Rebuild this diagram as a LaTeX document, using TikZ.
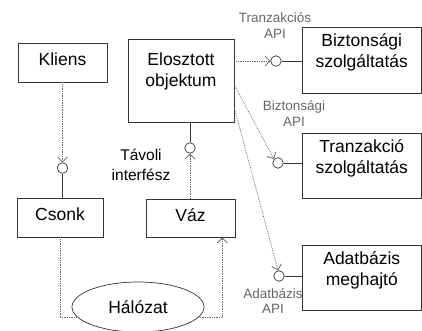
\documentclass[tikz,border=0pt]{standalone}
\usepackage{fontspec}
\setmainfont{Liberation Sans}
\usetikzlibrary{arrows,arrows.meta,shapes,positioning}

\tikzset{
box/.style={draw=black!80, line width=0.7pt, rectangle, inner sep=0pt, align=center, font=\fontsize{17.5}{21}\selectfont},
onebox/.style={box, text height=12pt, text depth=6pt},
iface/.style={draw=black!80, line width=0.7pt, circle, minimum size=10.5pt, inner sep=0pt},
api/.style={align=center, inner sep=0pt, text=black!60, font=\fontsize{13.5}{15.5}\selectfont},
wire/.style={draw=black!80, line width=0.7pt},
link/.style={densely dotted, black!60, line width=0.75pt},
call/.style={link, -{Straight Barb[length=5pt,width=10pt,line width=0.8pt]}},
}

\begin{document}
\begin{tikzpicture}[x=1pt,y=-1pt]
\useasboundingbox (0,0) rectangle (422,330);
\node [onebox, minimum width=89pt, minimum height=39pt] (kliens) at (62.5,62.5) {Kliens};
\node [box, minimum width=106pt, minimum height=83pt] (elosztott) at (181,80.5) {};
\node [align=center, inner sep=0pt, font=\fontsize{17.5}{21}\selectfont] (elosztottnev) at (181,71.6) {Elosztott\\objektum};
\node [onebox, minimum width=86pt, minimum height=39pt] (csonk) at (60,217.5) {Csonk};
\node [onebox, minimum width=89pt, minimum height=38pt] (vaz) at (190.5,218) {Váz};
\node [box, ellipse, minimum width=132pt, minimum height=50pt] (halozat) at (138,307) {Hálózat};
\node [box, minimum width=119pt, minimum height=66pt, text depth=18pt] (bizt) at (361.75,60) {Biztonsági\\szolgáltatás};
\node [box, minimum width=119pt, minimum height=65pt, text depth=18pt] (tranz) at (361.75,165.5) {Tranzakció\\szolgáltatás};
\node [box, minimum width=119pt, minimum height=65pt, text depth=18pt] (adat) at (361.75,277.5) {Adatbázis\\meghajtó};

\node [iface] (kliensif) at (62.5,168) {};
\node [iface] (elosztottif) at (190,148) {};
\node [iface] (biztif) at (276,61) {};
\node [iface] (tranzif) at (278,163) {};
\node [iface] (adatif) at (279,276) {};

\node [api] (biztapi) at (275,25.5) {Tranzakciós\\API};
\node [api] (tranzapi) at (294,113.5) {Biztonsági\\API};
\node [api] (adatapi) at (273,301) {Adatbázis\\API};
\node [align=center, inner sep=0pt, font=\fontsize{15.5}{20}\selectfont] (tavoli) at (141,164.7) {Távoli\\interfész};

\draw [call] (kliens.south) -- (kliensif.north);
\draw [wire] (kliensif.south) -- (kliensif |- csonk.north);
\draw [wire] (elosztottif.north) -- (elosztottif |- elosztott.south);
\draw [call] (vaz.north -| elosztottif) -- (elosztottif.south);
\draw [link] (csonk.south) |- (halozat.190);
\draw [call] (halozat.-10) -| ([xshift=-13pt]vaz.south east);
\draw [call] (elosztott.east |- biztif) -- (biztif.west);
\draw [wire] (biztif.east) -- (biztif.east -| bizt.west);
\draw [call] ([yshift=-4.5pt]elosztott.east) -- (tranzif.135);
\draw [wire] (tranzif.east) -- (tranzif.east -| tranz.west);
\draw [call] ([yshift=-27.5pt]elosztott.east) -- (adatif.100);
\draw [wire] (adatif.east) -- (adatif.east -| adat.west);
\end{tikzpicture}
\end{document}
